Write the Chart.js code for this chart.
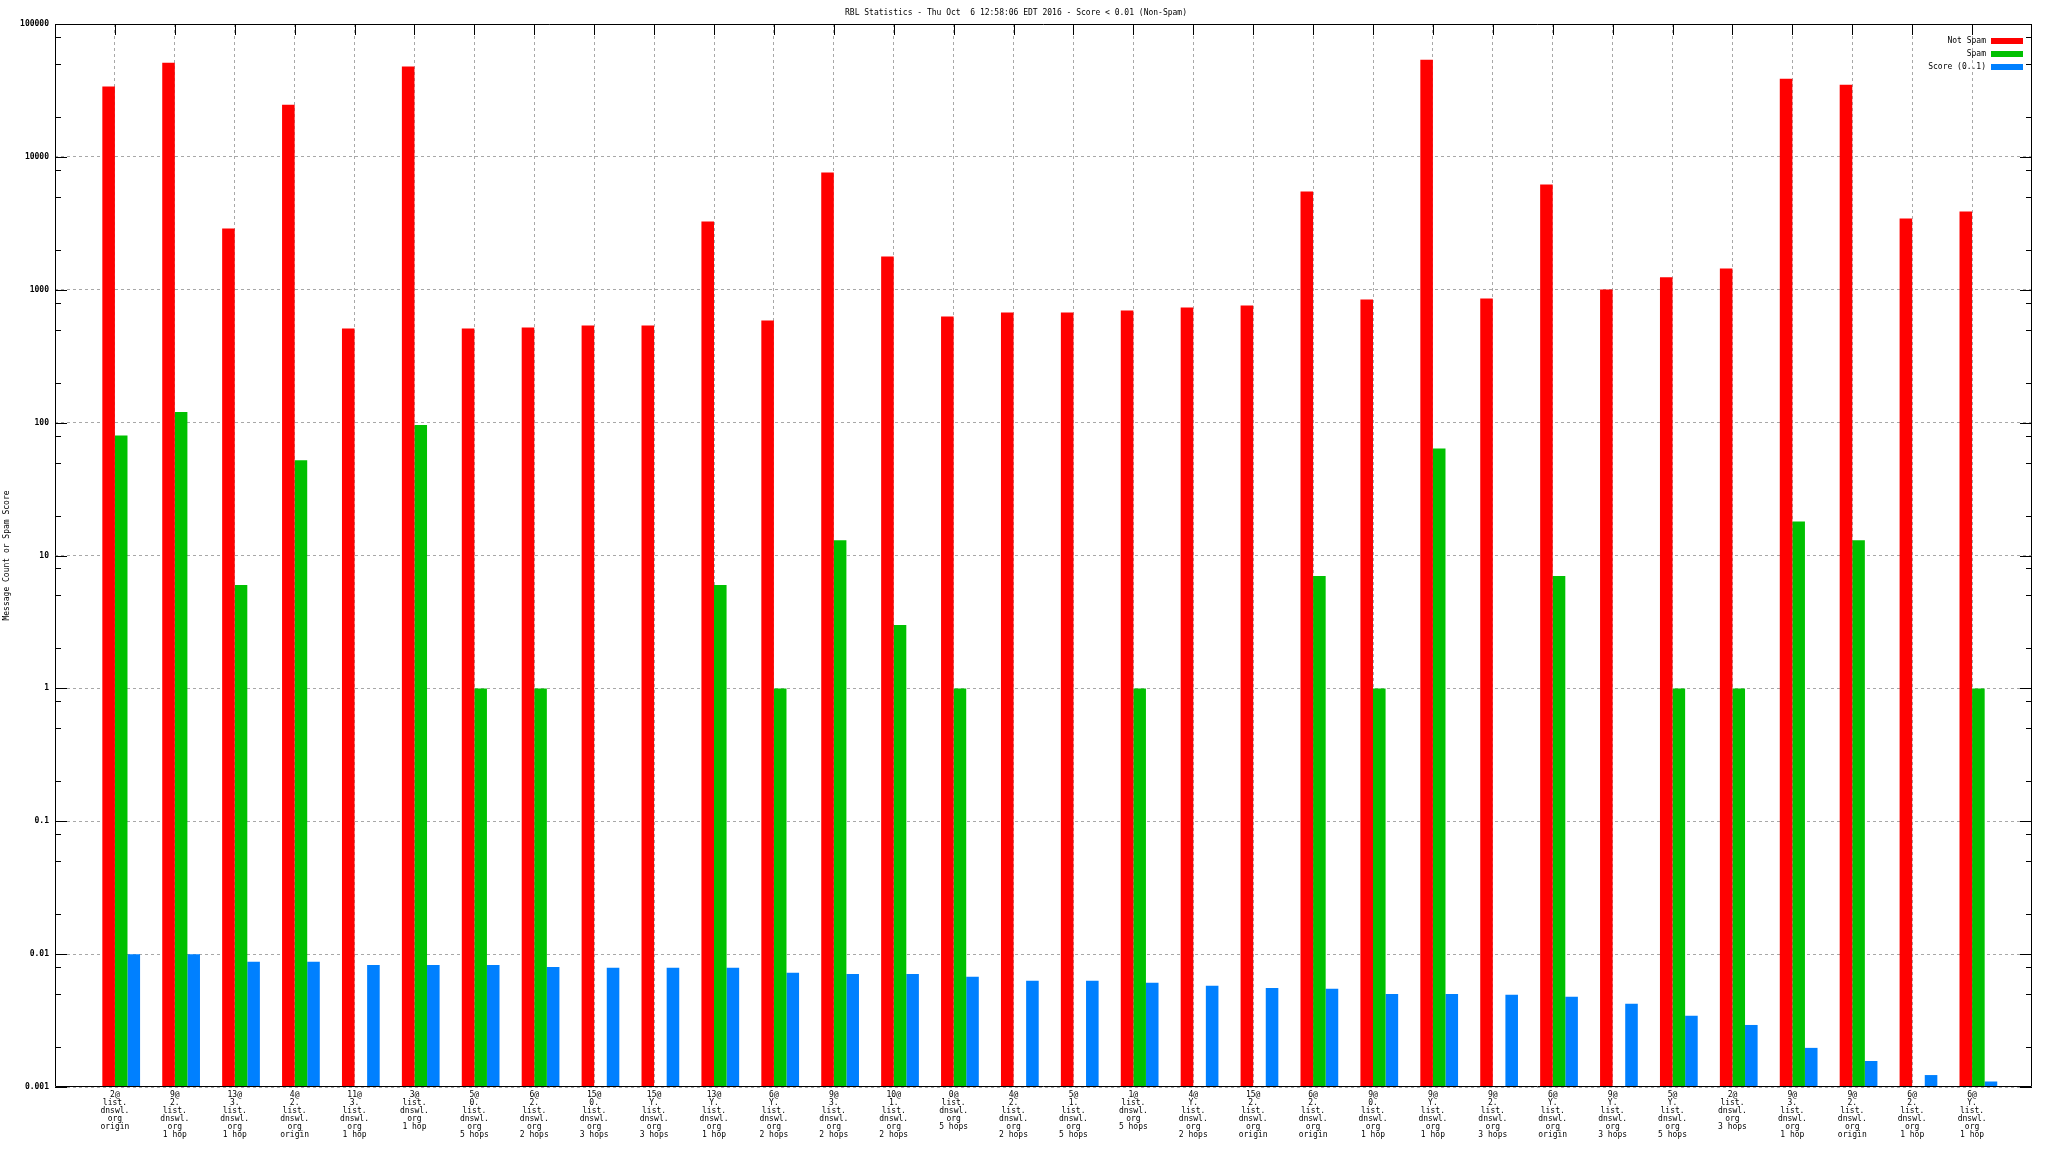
<!DOCTYPE html>
<html>
<head>
<meta charset="utf-8">
<title>RBL Statistics</title>
<script src="https://cdn.jsdelivr.net/npm/chart.js@4.4.1/dist/chart.umd.min.js"></script>
<style>
  html, body { margin: 0; padding: 0; background: #fff; }
  canvas { display: block; }
</style>
</head>
<body>
<canvas id="myChart" width="2048" height="1152"></canvas>
<script>
// categories, one array per x label (multi-line)
const categories = [
  ['2@','list.','dnswl.','org','origin'],
  ['9@','2.','list.','dnswl.','org','1 hop'],
  ['13@','3.','list.','dnswl.','org','1 hop'],
  ['4@','2.','list.','dnswl.','org','origin'],
  ['11@','3.','list.','dnswl.','org','1 hop'],
  ['3@','list.','dnswl.','org','1 hop'],
  ['5@','0.','list.','dnswl.','org','5 hops'],
  ['6@','2.','list.','dnswl.','org','2 hops'],
  ['15@','0.','list.','dnswl.','org','3 hops'],
  ['15@','Y.','list.','dnswl.','org','3 hops'],
  ['13@','Y.','list.','dnswl.','org','1 hop'],
  ['6@','Y.','list.','dnswl.','org','2 hops'],
  ['9@','3.','list.','dnswl.','org','2 hops'],
  ['10@','1.','list.','dnswl.','org','2 hops'],
  ['0@','list.','dnswl.','org','5 hops'],
  ['4@','2.','list.','dnswl.','org','2 hops'],
  ['5@','1.','list.','dnswl.','org','5 hops'],
  ['1@','list.','dnswl.','org','5 hops'],
  ['4@','Y.','list.','dnswl.','org','2 hops'],
  ['15@','2.','list.','dnswl.','org','origin'],
  ['6@','2.','list.','dnswl.','org','origin'],
  ['9@','0.','list.','dnswl.','org','1 hop'],
  ['9@','Y.','list.','dnswl.','org','1 hop'],
  ['9@','2.','list.','dnswl.','org','3 hops'],
  ['6@','Y.','list.','dnswl.','org','origin'],
  ['9@','Y.','list.','dnswl.','org','3 hops'],
  ['5@','Y.','list.','dnswl.','org','5 hops'],
  ['2@','list.','dnswl.','org','3 hops'],
  ['9@','3.','list.','dnswl.','org','1 hop'],
  ['9@','2.','list.','dnswl.','org','origin'],
  ['6@','2.','list.','dnswl.','org','1 hop'],
  ['6@','Y.','list.','dnswl.','org','1 hop']
];

const notSpam = [33800, 51200, 2890, 24700, 512, 47800, 512, 520, 538, 538, 3270, 587,
  7620, 1780, 630, 675, 675, 698, 736, 762, 5480, 845, 53900, 859, 6200, 1005,
  1240, 1445, 38800, 34900, 3440, 3880];

const spam = [80, 120, 6, 52, null, 96, 1, 1, null, null, 6, 1, 13, 3, 1, null,
  null, 1, null, null, 7, 1, 64, null, 7, null, 1, 1, 18, 13, null, 1];

const score = [0.0100, 0.0100, 0.00875, 0.00875, 0.0083, 0.0083, 0.0083, 0.0080,
  0.0079, 0.0079, 0.0079, 0.00723, 0.0071, 0.0071, 0.00675, 0.0063, 0.0063, 0.0061,
  0.00577, 0.00557, 0.00548, 0.00502, 0.00502, 0.00494, 0.00477, 0.00423, 0.00343,
  0.00293, 0.00197, 0.00157, 0.00123, 0.0011];

const yTicks = [0.001, 0.01, 0.1, 1, 10, 100, 1000, 10000, 100000];

const FONT = 'DejaVu Sans Mono';

// gnuplot style range: one empty slot on each side of the categories
const pad = arr => [null].concat(arr, [null]);
const labels = [''].concat(categories, ['']);

// border, inward tick marks and legend in the top right corner
const gnuplotFrame = {
  id: 'gnuplotFrame',
  afterDatasetsDraw(chart) {
    const {ctx, chartArea: a, scales: {x, y}} = chart;
    ctx.save();
    ctx.strokeStyle = '#000';
    ctx.lineWidth = 1;
    ctx.beginPath();
    ctx.rect(Math.round(a.left) + 0.5, Math.round(a.top) + 0.5,
      Math.round(a.right - a.left) - 1, Math.round(a.bottom - a.top) - 1);
    ctx.stroke();

    ctx.beginPath();
    yTicks.forEach(d => {
      const py = Math.round(y.getPixelForValue(d)) + 0.5;
      ctx.moveTo(a.left, py); ctx.lineTo(a.left + 12, py);
      ctx.moveTo(a.right, py); ctx.lineTo(a.right - 12, py);
      [2, 5, 8].forEach(m => {
        const v = d * m;
        if (v >= y.max) return;
        const pm = Math.round(y.getPixelForValue(v)) + 0.5;
        ctx.moveTo(a.left, pm); ctx.lineTo(a.left + 6, pm);
        ctx.moveTo(a.right, pm); ctx.lineTo(a.right - 6, pm);
      });
    });
    for (let i = 1; i <= categories.length; i++) {
      const px = Math.round(x.getPixelForValue(i)) + 0.5;
      ctx.moveTo(px, a.top); ctx.lineTo(px, a.top + 11);
    }
    ctx.stroke();

    // legend
    ctx.font = '8px "' + FONT + '"';
    ctx.textAlign = 'right';
    ctx.textBaseline = 'middle';
    let row = 0;
    chart.data.datasets.forEach(ds => {
      if (!ds.label) return;
      const cy = a.top + 17 + row * 13;
      ctx.fillStyle = '#000';
      ctx.fillText(ds.label, a.right - 46, cy);
      ctx.fillStyle = ds.backgroundColor;
      ctx.fillRect(a.right - 41, cy - 3, 32, 6);
      row++;
    });
    ctx.restore();
  }
};

const ctx = document.getElementById('myChart').getContext('2d');

const chart = new Chart(ctx, {
  type: 'bar',
  data: {
    labels: labels,
    datasets: [
      { label: '', data: pad(categories.map(() => null)), backgroundColor: 'rgba(0,0,0,0)' },
      { label: 'Not Spam', data: pad(notSpam), backgroundColor: '#ff0000' },
      { label: 'Spam', data: pad(spam), backgroundColor: '#00c000' },
      { label: 'Score (0..1)', data: pad(score), backgroundColor: '#0080ff' }
    ]
  },
  options: {
    responsive: false,
    animation: false,
    devicePixelRatio: 1,
    layout: { padding: { left: 0, right: 16, top: 0, bottom: 0 } },
    datasets: {
      bar: { categoryPercentage: 0.84, barPercentage: 1.0, borderWidth: 0 }
    },
    plugins: {
      legend: { display: false },
      tooltip: { enabled: false },
      title: {
        display: true,
        text: 'RBL Statistics - Thu Oct  6 12:58:06 EDT 2016 - Score < 0.01 (Non-Spam)',
        color: '#000',
        font: { family: FONT, size: 8, weight: 'normal', lineHeight: 1.25 },
        padding: { top: 8, bottom: 6 }
      }
    },
    scales: {
      x: {
        type: 'category',
        offset: false,
        grid: {
          offset: false,
          drawTicks: false,
          color: c => (c.index === 0 || c.index === labels.length - 1) ? 'rgba(0,0,0,0)' : '#a8a8a8',
          lineWidth: 1
        },
        border: { display: false, dash: [3, 3] },
        ticks: {
          autoSkip: false,
          maxRotation: 0,
          minRotation: 0,
          padding: 4,
          color: '#000',
          font: { family: FONT, size: 8, lineHeight: 1 }
        },
        afterFit: s => { s.height = 65; }
      },
      y: {
        type: 'logarithmic',
        min: 0.001,
        max: 100000,
        grid: { drawTicks: false, color: '#a8a8a8', lineWidth: 1 },
        border: { display: false, dash: [3, 3] },
        afterBuildTicks: s => { s.ticks = yTicks.map(v => ({ value: v })); },
        ticks: {
          padding: 6,
          color: '#000',
          font: { family: FONT, size: 8, weight: 'bold' },
          callback: v => String(v)
        },
        title: {
          display: true,
          text: 'Message Count or Spam Score',
          color: '#000',
          font: { family: FONT, size: 8 },
          padding: { top: 2, bottom: 0 }
        },
        afterFit: s => { s.width = 55; }
      }
    }
  },
  plugins: [gnuplotFrame]
});
</script>
</body>
</html>
